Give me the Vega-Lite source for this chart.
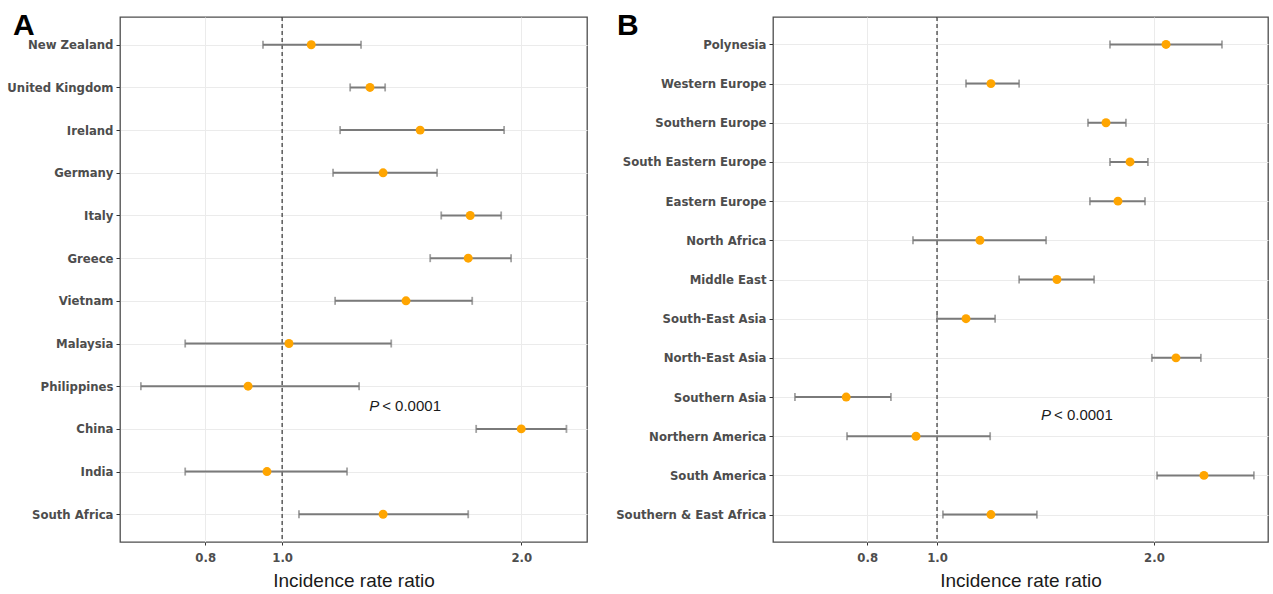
{
  "$schema": "https://vega.github.io/schema/vega-lite/v6.json",
  "background": "white",
  "padding": {"left": 5, "right": 3, "top": 10, "bottom": 3},
  "spacing": 10,
  "config": {
    "view": {"stroke": "#4d4d4d", "strokeWidth": 1.3},
    "axis": {
      "domain": false,
      "gridColor": "#ebebeb",
      "gridWidth": 1,
      "tickColor": "#333333",
      "tickSize": 4,
      "labelColor": "#4d4d4d",
      "labelFont": "Liberation Sans Narrow, DejaVu Sans Condensed, sans-serif",
      "labelFontWeight": "bold",
      "labelFontSize": 13,
      "titleFont": "Liberation Sans, Arial, sans-serif",
      "titleFontWeight": "normal",
      "titleFontSize": 19,
      "titleColor": "#1a1a1a"
    }
  },
  "hconcat": [
    {
      "width": 467,
      "height": 525,
      "title": {"text": "A", "anchor": "start", "frame": "group", "font": "Liberation Sans, Arial, sans-serif", "fontSize": 30, "fontWeight": "bold", "color": "black", "offset": 0, "dx": -107, "dy": 25},
      "data": {"values": [
        {"country": "New Zealand", "irr": 1.088, "lower": 0.946, "upper": 1.257},
        {"country": "United Kingdom", "irr": 1.29, "lower": 1.218, "upper": 1.348},
        {"country": "Ireland", "irr": 1.492, "lower": 1.183, "upper": 1.903},
        {"country": "Germany", "irr": 1.34, "lower": 1.159, "upper": 1.567},
        {"country": "Italy", "irr": 1.725, "lower": 1.586, "upper": 1.887},
        {"country": "Greece", "irr": 1.715, "lower": 1.536, "upper": 1.942},
        {"country": "Vietnam", "irr": 1.432, "lower": 1.166, "upper": 1.735},
        {"country": "Malaysia", "irr": 1.02, "lower": 0.755, "upper": 1.372},
        {"country": "Philippines", "irr": 0.906, "lower": 0.664, "upper": 1.25},
        {"country": "China", "irr": 2.0, "lower": 1.755, "upper": 2.28},
        {"country": "India", "irr": 0.957, "lower": 0.755, "upper": 1.207},
        {"country": "South Africa", "irr": 1.34, "lower": 1.05, "upper": 1.715}
      ]},
      "layer": [
        {
          "data": {"values": [{"ref": 1}]},
          "mark": {"type": "rule", "strokeDash": [4, 3], "color": "#333333", "strokeWidth": 1.2},
          "encoding": {
            "x": {"field": "ref", "type": "quantitative", "title": "Incidence rate ratio", "scale": {"type": "log", "domain": [0.625, 2.42], "nice": false},
              "axis": {"title": "Incidence rate ratio", "values": [0.8, 1, 2], "format": ".1f", "grid": true, "tickSize": 3, "labelPadding": 6, "titlePadding": 7}}
          }
        },
        {
          "mark": {"type": "errorbar", "color": "#7a7a7a", "thickness": 2, "ticks": {"size": 8, "thickness": 1.8, "color": "#7a7a7a"}},
          "encoding": {
            "y": {"field": "country", "type": "nominal", "sort": null, "scale": {"type": "point", "padding": 0.65},
              "axis": {"title": null, "grid": true, "minExtent": 114, "maxExtent": 114, "labelPadding": 3}},
            "x": {"field": "lower", "type": "quantitative", "title": "Incidence rate ratio"},
            "x2": {"field": "upper", "title": "Incidence rate ratio"}
          }
        },
        {
          "mark": {"type": "point", "filled": true, "color": "#FFA500", "size": 80, "opacity": 1},
          "encoding": {
            "y": {"field": "country", "type": "nominal", "sort": null},
            "x": {"field": "irr", "type": "quantitative", "title": "Incidence rate ratio"}
          }
        },
        {
          "data": {"values": [{"country": "Philippines", "px": 1.287}]},
          "mark": {"type": "text", "text": "P", "fontStyle": "italic", "align": "left", "baseline": "middle", "dy": 20, "fontSize": 15, "font": "Liberation Sans, Arial, sans-serif", "color": "#1a1a1a"},
          "encoding": {
            "y": {"field": "country", "type": "nominal", "sort": null},
            "x": {"field": "px", "type": "quantitative", "title": "Incidence rate ratio"}
          }
        },
        {
          "data": {"values": [{"country": "Philippines", "px": 1.287}]},
          "mark": {"type": "text", "text": "< 0.0001", "align": "left", "baseline": "middle", "dx": 13, "dy": 20, "fontSize": 15, "font": "Liberation Sans, Arial, sans-serif", "color": "#1a1a1a"},
          "encoding": {
            "y": {"field": "country", "type": "nominal", "sort": null},
            "x": {"field": "px", "type": "quantitative", "title": "Incidence rate ratio"}
          }
        }
      ]
    },
    {
      "width": 495,
      "height": 525,
      "title": {"text": "B", "anchor": "start", "frame": "group", "font": "Liberation Sans, Arial, sans-serif", "fontSize": 30, "fontWeight": "bold", "color": "black", "offset": 0, "dx": -156, "dy": 25},
      "data": {"values": [
        {"region": "Polynesia", "irr": 2.079, "lower": 1.738, "upper": 2.486},
        {"region": "Western Europe", "irr": 1.188, "lower": 1.097, "upper": 1.3},
        {"region": "Southern Europe", "irr": 1.716, "lower": 1.62, "upper": 1.829},
        {"region": "South Eastern Europe", "irr": 1.853, "lower": 1.738, "upper": 1.962},
        {"region": "Eastern Europe", "irr": 1.783, "lower": 1.63, "upper": 1.944},
        {"region": "North Africa", "irr": 1.147, "lower": 0.926, "upper": 1.417},
        {"region": "Middle East", "irr": 1.467, "lower": 1.3, "upper": 1.652},
        {"region": "South-East Asia", "irr": 1.097, "lower": 1.0, "upper": 1.204},
        {"region": "North-East Asia", "irr": 2.146, "lower": 1.987, "upper": 2.324},
        {"region": "Southern Asia", "irr": 0.748, "lower": 0.635, "upper": 0.863},
        {"region": "Northern America", "irr": 0.935, "lower": 0.75, "upper": 1.185},
        {"region": "South America", "irr": 2.347, "lower": 2.02, "upper": 2.753},
        {"region": "Southern & East Africa", "irr": 1.188, "lower": 1.019, "upper": 1.376}
      ]},
      "layer": [
        {
          "data": {"values": [{"ref": 1}]},
          "mark": {"type": "rule", "strokeDash": [4, 3], "color": "#333333", "strokeWidth": 1.2},
          "encoding": {
            "x": {"field": "ref", "type": "quantitative", "title": "Incidence rate ratio", "scale": {"type": "log", "domain": [0.592, 2.88], "nice": false},
              "axis": {"title": "Incidence rate ratio", "values": [0.8, 1, 2], "format": ".1f", "grid": true, "tickSize": 3, "labelPadding": 6, "titlePadding": 7}}
          }
        },
        {
          "mark": {"type": "errorbar", "color": "#7a7a7a", "thickness": 2, "ticks": {"size": 8, "thickness": 1.8, "color": "#7a7a7a"}},
          "encoding": {
            "y": {"field": "region", "type": "nominal", "sort": null, "scale": {"type": "point", "padding": 0.7},
              "axis": {"title": null, "grid": true, "minExtent": 174, "maxExtent": 174, "labelPadding": 3}},
            "x": {"field": "lower", "type": "quantitative", "title": "Incidence rate ratio"},
            "x2": {"field": "upper", "title": "Incidence rate ratio"}
          }
        },
        {
          "mark": {"type": "point", "filled": true, "color": "#FFA500", "size": 80, "opacity": 1},
          "encoding": {
            "y": {"field": "region", "type": "nominal", "sort": null},
            "x": {"field": "irr", "type": "quantitative", "title": "Incidence rate ratio"}
          }
        },
        {
          "data": {"values": [{"region": "Southern Asia", "px": 1.394}]},
          "mark": {"type": "text", "text": "P", "fontStyle": "italic", "align": "left", "baseline": "middle", "dy": 18, "fontSize": 15, "font": "Liberation Sans, Arial, sans-serif", "color": "#1a1a1a"},
          "encoding": {
            "y": {"field": "region", "type": "nominal", "sort": null},
            "x": {"field": "px", "type": "quantitative", "title": "Incidence rate ratio"}
          }
        },
        {
          "data": {"values": [{"region": "Southern Asia", "px": 1.394}]},
          "mark": {"type": "text", "text": "< 0.0001", "align": "left", "baseline": "middle", "dx": 13, "dy": 18, "fontSize": 15, "font": "Liberation Sans, Arial, sans-serif", "color": "#1a1a1a"},
          "encoding": {
            "y": {"field": "region", "type": "nominal", "sort": null},
            "x": {"field": "px", "type": "quantitative", "title": "Incidence rate ratio"}
          }
        }
      ]
    }
  ]
}
